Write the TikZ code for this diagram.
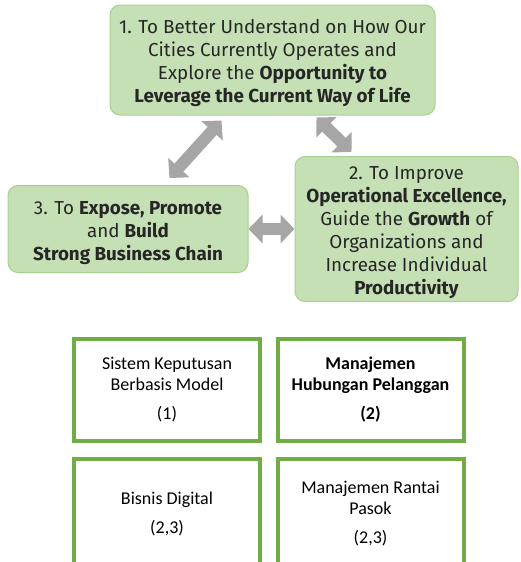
\documentclass[tikz,border=0pt]{standalone}
\usepackage{fontspec}
\setmainfont{Fira Sans}
\newfontfamily\calibri{Carlito}
\usetikzlibrary{arrows.meta}

\definecolor{goalfill}{HTML}{C5E0B4}
\definecolor{goaledge}{HTML}{A9D18E}
\definecolor{linkgray}{HTML}{A6A6A6}
\definecolor{topicedge}{HTML}{70AD47}

% pushes the goal text a little down in its box
\newcommand\goaltop{\rule{0pt}{21pt}}

\begin{document}
\begin{tikzpicture}[x=1pt,y=-1pt,
  goal/.style={draw=goaledge,fill=goalfill,rounded corners=10pt,line width=1pt,
    align=center,text=black!85,inner sep=0pt,
    font=\fontsize{18.8}{23}\selectfont},
  topic/.style={draw=topicedge,line width=4pt,align=center,inner sep=0pt,
    minimum width=186pt,minimum height=102pt,font=\calibri\fontsize{18}{21}\selectfont},
  link/.style={linkgray,line width=12pt,
    {Triangle[width=28pt,length=14pt]}-{Triangle[width=28pt,length=14pt]}}]
\useasboundingbox (0,0) rectangle (520,562);

% the three goals
\node[goal,minimum width=325pt,minimum height=110pt] (g1) at (272.5,60)
  {\goaltop 1. To Better Understand on How Our\\Cities Currently Operates and\\Explore the \textbf{Opportunity to}\\\textbf{Leverage the Current Way of Life}};
\node[goal,minimum width=223pt,minimum height=145pt] (g2) at (406.5,229)
  {\goaltop 2. To Improve\\\textbf{Operational Excellence,}\\Guide the \textbf{Growth} of\\Organizations and\\Increase Individual\\\textbf{Productivity}};
\node[goal,minimum width=240pt,minimum height=87pt] (g3) at (128,229)
  {\goaltop 3. To \textbf{Expose, Promote}\\and \textbf{Build}\\\textbf{Strong Business Chain}};

\draw[link] ([xshift=162pt,yshift=7pt]g3.north west) -- ([xshift=112pt,yshift=-5pt]g1.south west);
\draw[link] ([xshift=207pt,yshift=-2pt]g1.south west) -- ([xshift=57pt,yshift=4pt]g2.north west);
\draw[link] (g3.east) -- (g2.west);

% the four topics
\node[topic] (t1) at (167,390) {Sistem Keputusan\\Berbasis Model\\[8pt](1)};
\node[topic,font=\calibri\bfseries\fontsize{18}{21}\selectfont] (t2) at (370.5,390)
  {Manajemen\\Hubungan Pelanggan\\[8pt](2)};
\node[topic,minimum height=110pt] (t3) at (167,514) {Bisnis Digital\\[8pt](2,3)};
\node[topic,minimum height=110pt] (t4) at (370.5,514) {Manajemen Rantai\\Pasok\\[8pt](2,3)};
\end{tikzpicture}
\end{document}
